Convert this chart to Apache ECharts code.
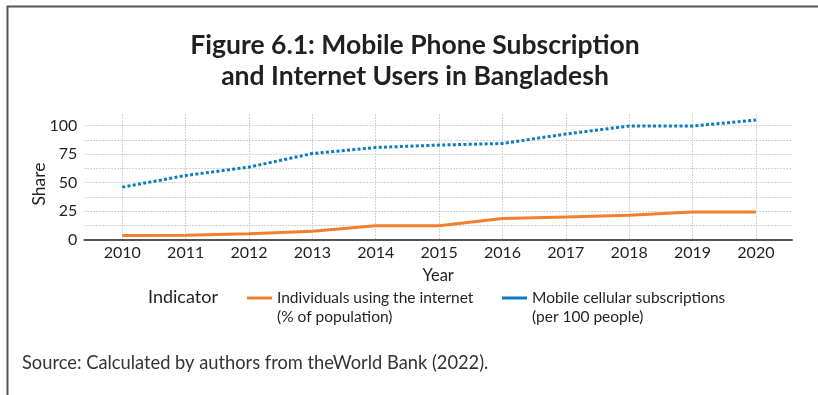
<!DOCTYPE html>
<html>
<head>
<meta charset="utf-8">
<script src="https://cdn.jsdelivr.net/npm/echarts@6/dist/echarts.min.js"></script>
<style>
  html, body { margin: 0; padding: 0; background: #fff; }
  #chart { width: 818px; height: 395px; }
</style>
</head>
<body>
<div id="chart"></div>
<script>
// Years on the x axis
const years = [2010, 2011, 2012, 2013, 2014, 2015, 2016, 2017, 2018, 2019, 2020];

// Individuals using the internet (% of population)
const internetUsers = [3.7, 3.8, 5.3, 7.4, 12.3, 12.3, 18.5, 20.0, 21.4, 24.4, 24.4];

// Mobile cellular subscriptions (per 100 people)
const mobileSubs = [46.1, 56.3, 63.7, 75.6, 80.9, 83.0, 84.4, 92.7, 99.7, 99.7, 105.0];

// Tick values
const yLabelValues = [0, 25, 50, 75, 100];
const yGridValues = [0, 12.5, 25, 37.5, 50, 62.5, 75, 87.5, 100];

const seriesNames = [
  'Individuals using the internet\n(% of population)',
  'Mobile cellular subscriptions\n(per 100 people)'
];

const FONT = 'Lato, "Noto Sans", sans-serif';
const ORANGE = '#f37f2d';
const BLUE = '#0b7cc1';
const TEXT = '#231f20';

const pairs = (vals) => years.map((y, i) => [y, vals[i]]);

const chart = echarts.init(document.getElementById('chart'), null, { renderer: 'canvas' });

// An empty leading line keeps the swatch level with the first text line
const legendFormatter = (name) => ' \n' + name;

const legendText = {
  fontFamily: FONT,
  fontSize: 15.5,
  color: TEXT,
  lineHeight: 19
};

const legendBase = {
  top: 269.5,
  padding: 0,
  icon: 'rect',
  itemWidth: 25,
  itemHeight: 3,
  textStyle: legendText,
  formatter: legendFormatter,
  selectedMode: false
};

chart.setOption({
  animation: false,
  backgroundColor: '#fff',
  title: {
    text: 'Figure 6.1: Mobile Phone Subscription\nand Internet Users in Bangladesh',
    left: 415,
    textAlign: 'center',
    top: 29.5,
    padding: 0,
    textStyle: {
      fontFamily: FONT,
      fontWeight: 'bold',
      fontSize: 26.5,
      lineHeight: 31,
      color: TEXT
    }
  },
  grid: {
    left: 84.3,
    right: 26,
    top: 114.3,
    bottom: 155.3,
    containLabel: false
  },
  xAxis: {
    type: 'value',
    min: 2009.4,
    max: 2020.57,
    name: 'Year',
    nameLocation: 'middle',
    nameGap: 27,
    nameMoveOverlap: false,
    nameTextStyle: { fontFamily: FONT, fontSize: 16.5, color: TEXT },
    axisLine: { show: true, lineStyle: { color: '#555', width: 2 } },
    axisTick: { show: false, customValues: years },
    axisLabel: {
      customValues: years,
      formatter: (v) => String(v),
      fontFamily: FONT,
      fontSize: 16,
      color: TEXT,
      margin: 5
    },
    splitLine: {
      show: true,
      lineStyle: { color: '#c4c4c4', width: 1, type: [1.5, 1.5] }
    }
  },
  yAxis: {
    type: 'value',
    min: 0,
    max: 110,
    name: 'Share',
    nameLocation: 'middle',
    nameGap: 36,
    nameMoveOverlap: false,
    nameTextStyle: { fontFamily: FONT, fontSize: 17.5, color: TEXT, padding: [0, 14, 0, 0] },
    axisLine: { show: false },
    axisTick: { show: false, customValues: yGridValues },
    axisLabel: {
      customValues: yLabelValues,
      fontFamily: FONT,
      fontSize: 16,
      color: TEXT,
      margin: 7
    },
    splitLine: {
      show: true,
      lineStyle: { color: '#c4c4c4', width: 1, type: [1.5, 1.5] }
    }
  },
  legend: [
    Object.assign({ data: [seriesNames[0]], left: 247 }, legendBase),
    Object.assign({ data: [seriesNames[1]], left: 502 }, legendBase)
  ],
  series: [
    {
      name: seriesNames[0],
      type: 'line',
      data: pairs(internetUsers),
      symbol: 'none',
      color: ORANGE,
      lineStyle: { color: ORANGE, width: 3 },
      z: 3
    },
    {
      name: seriesNames[1],
      type: 'line',
      data: pairs(mobileSubs),
      symbol: 'none',
      color: BLUE,
      lineStyle: { color: BLUE, width: 3, type: [3, 2.3] },
      z: 4
    }
  ],
  graphic: [
    {
      type: 'polyline',
      silent: true,
      shape: { points: [[7.5, 395], [7.5, 6.5], [818, 6.5]] },
      style: { stroke: '#555', lineWidth: 2, fill: null }
    },
    {
      type: 'text',
      left: 148,
      top: 288,
      style: {
        text: 'Indicator',
        fontFamily: FONT,
        fontSize: 18,
        fill: TEXT
      }
    },
    {
      type: 'text',
      left: 22,
      top: 354,
      style: {
        text: 'Source: Calculated by authors from theWorld Bank (2022).',
        fontFamily: FONT,
        fontSize: 18.3,
        fill: '#333'
      }
    }
  ]
});
</script>
</body>
</html>
